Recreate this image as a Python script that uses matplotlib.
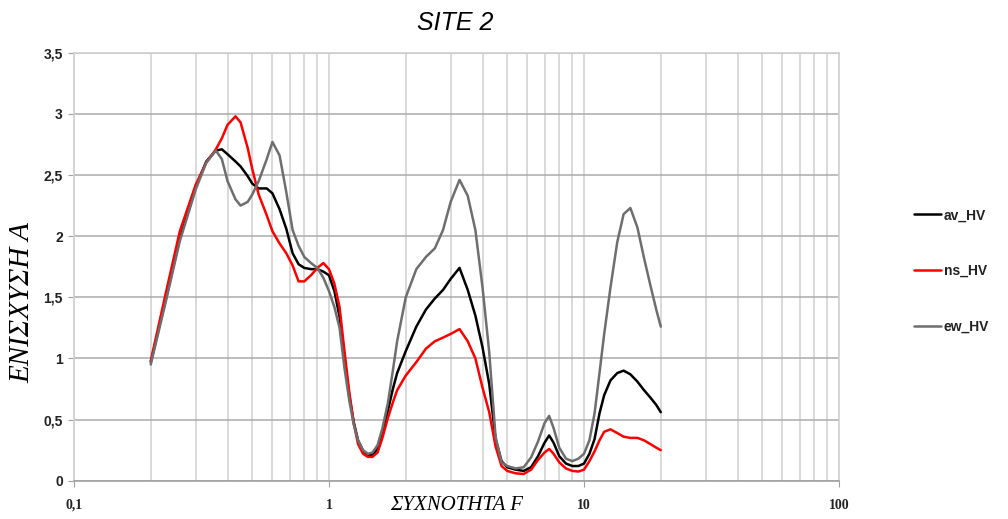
import matplotlib
matplotlib.use('Agg')
import matplotlib.pyplot as plt
from matplotlib.ticker import FixedLocator, NullFormatter

# frequency (Hz) and H/V amplification
freq = [0.2, 0.23, 0.26, 0.3, 0.33, 0.36, 0.38, 0.4, 0.43, 0.45,
        0.48, 0.5, 0.53, 0.57, 0.6, 0.64, 0.68, 0.72, 0.76, 0.8,
        0.85, 0.9, 0.95, 1.0, 1.05, 1.1, 1.15, 1.2, 1.25, 1.3,
        1.36, 1.42, 1.48, 1.55, 1.62, 1.7, 1.78, 1.85, 2.0, 2.2,
        2.4, 2.6, 2.8, 3.0, 3.25, 3.5, 3.75, 4.0, 4.25, 4.5,
        4.75, 5.0, 5.4, 5.8, 6.2, 6.6, 7.0, 7.3, 7.6, 8.0,
        8.5, 9.0, 9.5, 10.0, 10.5, 11.0, 11.5, 12.0, 12.7, 13.5,
        14.3, 15.2, 16.2, 17.2, 18.2, 19.2, 20.0]

av_hv = [0.97, 1.50, 1.98, 2.40, 2.61, 2.70, 2.71, 2.67, 2.61, 2.57,
         2.49, 2.43, 2.39, 2.39, 2.35, 2.22, 2.06, 1.86, 1.77, 1.74,
         1.73, 1.73, 1.71, 1.68, 1.55, 1.34, 1.00, 0.70, 0.48, 0.33,
         0.245, 0.21, 0.21, 0.26, 0.39, 0.57, 0.75, 0.88, 1.06, 1.26,
         1.40, 1.49, 1.56, 1.65, 1.74, 1.56, 1.35, 1.09, 0.79, 0.34,
         0.16, 0.11, 0.09, 0.08, 0.11, 0.20, 0.31, 0.37, 0.31, 0.20,
         0.14, 0.12, 0.12, 0.14, 0.22, 0.34, 0.55, 0.70, 0.82, 0.88,
         0.90, 0.87, 0.81, 0.74, 0.68, 0.62, 0.56]

ns_hv = [0.98, 1.55, 2.04, 2.42, 2.60, 2.71, 2.80, 2.91, 2.98, 2.93,
         2.72, 2.55, 2.34, 2.17, 2.04, 1.94, 1.86, 1.76, 1.63, 1.63,
         1.68, 1.74, 1.78, 1.73, 1.61, 1.42, 1.06, 0.73, 0.47, 0.30,
         0.22, 0.195, 0.195, 0.23, 0.35, 0.51, 0.64, 0.74, 0.86, 0.97,
         1.08, 1.14, 1.17, 1.20, 1.24, 1.14, 1.00, 0.76, 0.56, 0.28,
         0.12, 0.08, 0.06, 0.055, 0.09, 0.17, 0.23, 0.26, 0.22, 0.15,
         0.10, 0.08, 0.075, 0.09, 0.16, 0.24, 0.33, 0.40, 0.42, 0.39,
         0.36, 0.35, 0.35, 0.33, 0.30, 0.27, 0.25]

ew_hv = [0.95, 1.48, 1.96, 2.38, 2.60, 2.70, 2.63, 2.45, 2.30, 2.25,
         2.28, 2.34, 2.45, 2.63, 2.77, 2.66, 2.36, 2.05, 1.92, 1.83,
         1.78, 1.74, 1.66, 1.55, 1.42, 1.25, 0.92, 0.66, 0.46, 0.33,
         0.25, 0.22, 0.23, 0.29, 0.43, 0.63, 0.90, 1.14, 1.50, 1.73,
         1.83, 1.90, 2.05, 2.28, 2.46, 2.33, 2.05, 1.58, 1.05, 0.36,
         0.15, 0.12, 0.10, 0.11, 0.19, 0.32, 0.47, 0.53, 0.43, 0.27,
         0.18, 0.16, 0.18, 0.22, 0.33, 0.55, 0.88, 1.20, 1.58, 1.95,
         2.18, 2.23, 2.07, 1.82, 1.60, 1.40, 1.26]

y_ticks = [0, 0.5, 1, 1.5, 2, 2.5, 3, 3.5]
y_labels = ['0', '0,5', '1', '1,5', '2', '2,5', '3', '3,5']
x_ticks = [0.1, 1, 10, 100]
x_labels = ['0,1', '1', '10', '100']

fig = plt.figure(figsize=(10.08, 5.19), dpi=100)
ax = fig.add_axes([74 / 1008, 1 - 480.7 / 519, 765 / 1008, 428 / 519])

style = dict(lw=1.8, solid_joinstyle='round', solid_capstyle='round')
ax.plot(freq, av_hv, color='#000000', label='av_HV', **style)
ax.plot(freq, ns_hv, color='#ff0000', label='ns_HV', **style)
ax.plot(freq, ew_hv, color='#6e6e6e', label='ew_HV', **style)

ax.set_xscale('log')
ax.set_xlim(0.1, 100)
ax.set_ylim(0, 3.5)

ax.xaxis.set_major_locator(FixedLocator(x_ticks))
ax.set_xticklabels(x_labels)
minors = [m * d for d in (0.1, 1, 10) for m in range(2, 10)]
ax.xaxis.set_minor_locator(FixedLocator(minors))
ax.xaxis.set_minor_formatter(NullFormatter())
ax.set_yticks(y_ticks)
ax.set_yticklabels(y_labels)

ax.grid(True, axis='x', which='both', color='#d9d9d9', lw=1.4)
ax.grid(True, axis='y', which='major', color='#ababab', lw=1.1)
ax.set_axisbelow(True)

for s in ('left', 'right', 'top'):
    ax.spines[s].set_color('#d0d0d0')
    ax.spines[s].set_linewidth(1.2)
ax.spines['bottom'].set_color('#a0a0a0')
ax.spines['bottom'].set_linewidth(1.2)

ax.tick_params(axis='x', which='major', length=4, color='#a0a0a0', pad=9)
ax.tick_params(axis='x', which='minor', length=0)
ax.tick_params(axis='y', length=4, color='#a0a0a0', pad=4)
for t in ax.get_yticklabels():
    t.set_fontfamily('Liberation Sans')
    t.set_fontweight('bold')
    t.set_fontsize(10)
    t.set_color('#222222')
for t in ax.get_xticklabels():
    t.set_fontfamily('Liberation Serif')
    t.set_fontweight('bold')
    t.set_fontsize(10)
    t.set_color('#222222')

fig.text(455 / 1008, 1 - 23 / 519, 'SITE 2', ha='center', va='center',
         fontsize=18, style='italic', family='Liberation Sans')
fig.text(457 / 1008, 1 - 506 / 519, 'ΣΥΧΝΟΤΗΤΑ F', ha='center', va='center',
         fontsize=15, style='italic', family='Liberation Serif')
fig.text(22 / 1008, 1 - 303 / 519, 'ΕΝΙΣΧΥΣΗ Α', ha='center', va='center',
         rotation=90, fontsize=21, style='italic', family='Liberation Serif')

leg = fig.legend(loc='center left', bbox_to_anchor=(914 / 1008, 1 - 271 / 519),
                 frameon=False, borderpad=0, borderaxespad=0,
                 handlelength=1.95, handletextpad=0.2, labelspacing=3.0,
                 prop={'family': 'Liberation Sans', 'size': 10, 'weight': 'bold'})
for t in leg.get_texts():
    t.set_color('#222222')

fig.savefig('out.png', dpi=100)
